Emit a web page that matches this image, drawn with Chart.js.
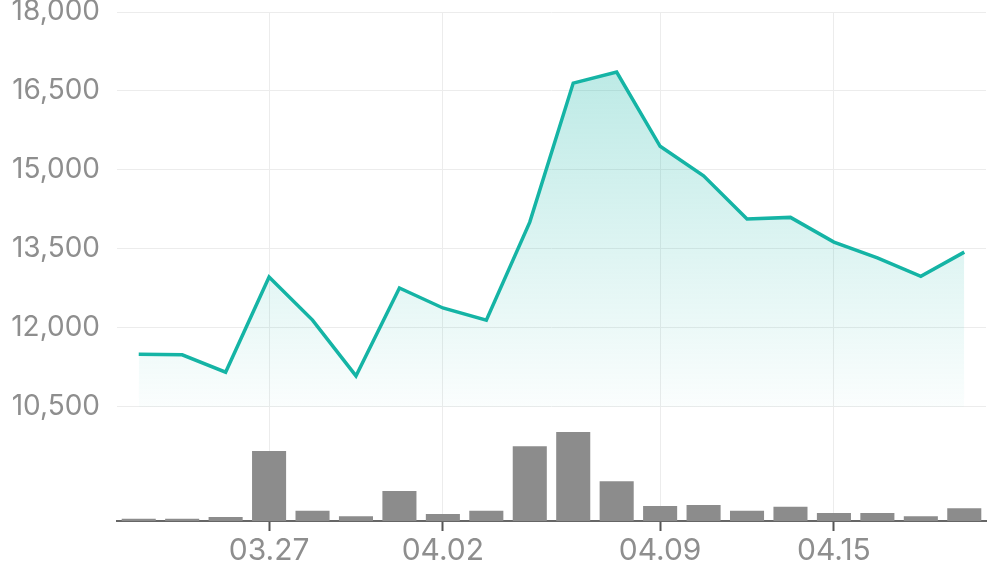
<!DOCTYPE html>
<html>
<head>
<meta charset="utf-8">
<script src="https://cdn.jsdelivr.net/npm/chart.js@4.4.1/dist/chart.umd.min.js"></script>
<style>
  html, body { margin: 0; padding: 0; background: #fff; }
  #wrap { width: 996px; height: 567px; }
</style>
</head>
<body>
<div id="wrap"><canvas id="price-canvas"></canvas></div>
<script>
// trading days
const dates = ['03.24', '03.25', '03.26', '03.27', '03.28', '03.31', '04.01', '04.02', '04.03', '04.04',
               '04.07', '04.08', '04.09', '04.10', '04.11', '04.14', '04.15', '04.16', '04.17', '04.18'];
const shownDates = ['03.27', '04.02', '04.09', '04.15'];

const prices = [11500, 11490, 11160, 12970, 12150, 11090, 12760, 12380, 12150, 14010,
                16650, 16860, 15450, 14890, 14070, 14100, 13630, 13330, 12980, 13440];
const volumes = [0.5, 0.5, 0.9, 15.8, 2.3, 1.1, 6.8, 1.6, 2.3, 16.9,
                 20.1, 9.0, 3.4, 3.6, 2.3, 3.2, 1.8, 1.8, 1.1, 2.9];

const priceTicks = [10500, 12000, 13500, 15000, 16500, 18000];

const isShown = (i) => shownDates.includes(dates[i]);

const ctx = document.getElementById('price-canvas');

new Chart(ctx, {
  type: 'bar',
  data: {
    labels: dates,
    datasets: [
      {
        type: 'line',
        label: 'Price',
        data: prices,
        yAxisID: 'y',
        borderColor: '#15b4a5',
        borderWidth: 3.5,
        pointRadius: 0,
        tension: 0,
        fill: { value: priceTicks[0] },
        // gradient has to follow the chart area, so rebuild it on every render
        backgroundColor: (context) => {
          const chart = context.chart;
          const { ctx, chartArea, scales } = chart;
          if (!chartArea) {
            return 'rgba(21,180,165,0.15)';
          }
          const bottom = scales.y.getPixelForValue(priceTicks[0]);
          const gradient = ctx.createLinearGradient(0, chartArea.top, 0, bottom);
          gradient.addColorStop(0, 'rgba(21,180,165,0.33)');
          gradient.addColorStop(1, 'rgba(21,180,165,0.02)');
          return gradient;
        },
        order: 0
      },
      {
        label: 'Volume',
        data: volumes,
        yAxisID: 'y2',
        backgroundColor: '#8c8c8c',
        categoryPercentage: 0.8,
        barPercentage: 0.98,
        order: 1
      }
    ]
  },
  options: {
    responsive: true,
    maintainAspectRatio: false,
    devicePixelRatio: 1,
    animation: false,
    layout: { padding: { left: 10, right: 10, top: 0, bottom: 0 } },
    plugins: {
      legend: { display: false },
      tooltip: { enabled: false }
    },
    scales: {
      x: {
        offset: true,
        border: { color: '#666', width: 2 },
        grid: {
          offset: false,
          color: (c) => isShown(c.index) ? '#ececec' : 'rgba(0,0,0,0)',
          tickColor: (c) => isShown(c.index) ? '#555' : 'rgba(0,0,0,0)',
          tickLength: 10,
          tickWidth: 2
        },
        ticks: {
          autoSkip: false,
          maxRotation: 0,
          color: '#8e8e8e',
          font: { family: 'Inter', size: 30, lineHeight: 1 },
          padding: 5,
          callback: (value, index) => isShown(index) ? dates[index] : ''
        },
        afterFit: (scale) => { scale.height = 46; }
      },
      y: {
        position: 'left',
        min: 8335,
        max: 18000,
        border: { display: false },
        grid: { color: '#ececec', drawTicks: false },
        afterBuildTicks: (axis) => {
          axis.ticks = priceTicks.map(v => ({ value: v }));
        },
        ticks: {
          color: '#8e8e8e',
          font: { family: 'Inter', size: 28, lineHeight: 1 },
          padding: 17,
          callback: (value) => value.toLocaleString('en-US')
        },
        // fixed axis width, and keep the top label's overhang from pushing the plot down
        afterFit: (scale) => {
          scale.width = 107;
          scale.paddingTop = 12;
          scale.paddingBottom = 0;
        }
      },
      y2: {
        display: false,
        min: 0,
        max: 115
      }
    }
  }
});
</script>
</body>
</html>
